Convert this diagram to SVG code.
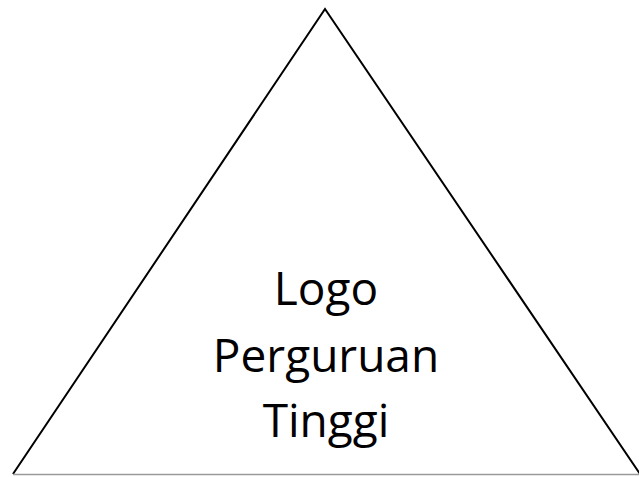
<svg xmlns="http://www.w3.org/2000/svg" width="639" height="477" viewBox="0 0 639 477">
<style>
.side{fill:none;stroke:#000;stroke-width:2;stroke-linejoin:miter}
.base{stroke:#9a9a9a;stroke-width:1.5}
.lbl{font-family:"Open Sans","Liberation Sans",sans-serif;font-size:46px;fill:#000;text-anchor:middle}
</style>
<rect width="639" height="477" fill="#fff"/>
<g id="triangle">
<path class="side" d="M13,474 L325,9 L640,474"/>
<line class="base" x1="13" y1="474.5" x2="639" y2="474.5"/>
<text class="lbl" x="326" y="305">Logo</text>
<text class="lbl" x="326" y="372">Perguruan</text>
<text class="lbl" x="326" y="437">Tinggi</text>
</g>
</svg>
